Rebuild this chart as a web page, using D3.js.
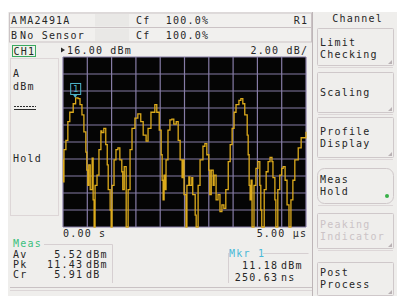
<!DOCTYPE html>
<html lang="en">
<head>
    <title>Peak Power Profile</title>
    <script src="https://d3js.org/d3.v7.min.js"></script>
    <style>
        body { margin: 0; background: #fff; }
        svg text { font-family: "DejaVu Sans Mono", monospace; font-size: 10px; letter-spacing: 1.2px; fill: #262626; }
    </style>
</head>
<body>
    <svg id="screen"></svg>

    <script>
        // trace: time in microseconds, power in dBm
        var traceTime = [0.00, 0.01, 0.02, 0.06, 0.10, 0.14, 0.21, 0.26, 0.31, 0.35, 0.39, 0.43, 0.47, 0.49, 0.51, 0.53,
            0.56, 0.60, 0.62, 0.64, 0.66, 0.70, 0.74, 0.78, 0.80, 0.84, 0.88, 0.91, 0.93, 0.97, 0.99, 1.01, 1.05,
            1.09, 1.13, 1.17, 1.21, 1.23, 1.26, 1.30, 1.34, 1.38, 1.42, 1.48, 1.54, 1.60, 1.65, 1.71, 1.75, 1.81,
            1.89, 1.93, 1.98, 2.02, 2.04, 2.06, 2.08, 2.10, 2.12, 2.16, 2.20, 2.24, 2.28, 2.33, 2.37, 2.41, 2.45,
            2.47, 2.49, 2.53, 2.55, 2.59, 2.61, 2.65, 2.67, 2.72, 2.74, 2.78, 2.82, 2.88, 2.92, 2.96, 3.00, 3.02,
            3.05, 3.09, 3.11, 3.15, 3.19, 3.23, 3.27, 3.31, 3.35, 3.40, 3.44, 3.48, 3.52, 3.56, 3.62, 3.66, 3.70,
            3.74, 3.79, 3.81, 3.83, 3.85, 3.87, 3.89, 3.93, 3.97, 4.01, 4.05, 4.07, 4.09, 4.14, 4.18, 4.22, 4.26,
            4.30, 4.32, 4.36, 4.38, 4.42, 4.46, 4.50, 4.53, 4.57, 4.61, 4.65, 4.69, 4.73, 4.77, 4.84, 4.90, 5.00];
        var tracePower = [3.9, 1.3, 5.1, 6.2, 8.4, 9.5, 10.5, 11.18, 11.1, 10.4, 9.2, 7.2, 4.8, 2.7, 0.9, 3.3,
            0.4, 4.1, -0.8, -4.0, 0.9, 2.1, 5.1, 7.3, 7.1, 7.6, 5.7, 3.3, 0.4, -2.0, -4.0, 0.9, 3.9,
            5.1, 5.3, 3.9, 2.5, 0.4, 3.1, -4.0, 0.4, 5.1, 7.6, 8.8, 9.3, 8.4, 6.8, 6.1, 7.6, 9.5,
            10.4, 9.5, 7.4, 4.5, 1.5, -0.8, 2.1, 0.4, 3.9, 7.4, 8.6, 8.7, 8.1, 8.4, 6.2, 3.9, 1.8,
            3.9, -0.2, -4.0, 0.9, 1.9, 0.9, 1.8, -0.2, -2.6, -4.0, 0.9, 3.9, 5.5, 5.8, 4.5, 2.7, -0.2,
            2.7, 0.9, 2.1, -0.8, -0.2, -2.2, -1.4, -1.8, 0.4, 3.7, 5.7, 7.6, 9.5, 10.4, 10.9, 11.1, 10.5,
            9.2, 6.8, 4.5, 0.9, -0.8, 1.5, -4.0, 0.9, 2.9, 3.7, 0.9, -2.0, -4.0, 0.4, 2.5, 3.7, 4.2,
            3.7, 1.8, -0.8, -4.0, 0.4, 2.1, 2.9, 3.1, 1.5, -1.4, -4.0, -0.8, 1.5, 3.9, 5.3, 6.5, 7.2];

        var headerRows = [["A", "MA2491A", "Cf", "100.0%", "R1"], ["B", "No Sensor", "Cf", "100.0%", ""]];
        var softKeys = [["Limit", "Checking"], ["Scaling"], ["Profile", "Display"], ["Meas", "Hold"],
            ["Peaking", "Indicator"], ["Post", "Process"]];
        var measLabels = ["Av", "Pk", "Cr"];
        var measValues = ["5.52", "11.43", "5.91"];
        var measUnits = ["dBm", "dBm", "dB"];
        var markerTime = 0.25063;   // us
        var markerPower = 11.18;    // dBm

        var width = 397, height = 296;
        var plot = { left: 63, top: 57, right: 306, bottom: 227 };

        var svg = d3.select("#screen").attr("width", width).attr("height", height);

        // screen background
        svg.append("rect").attr("x", 8).attr("y", 12).attr("width", width - 8).attr("height", height - 12)
            .attr("fill", "#efeeec");

        var line = "#cbc3c5";

        function label(xp, yp, s, anchor) {
            var t = svg.append("text").attr("x", xp).attr("y", yp).attr("dy", "0.35em").text(s);
            if (anchor === "end") t.attr("text-anchor", "end").attr("dx", 1.2);
            if (anchor === "middle") t.attr("text-anchor", "middle").attr("dx", 0.6);
            return t;
        }

        // header rows
        headerRows.forEach(function (r, i) {
            var y = 13 + i * 14.5;
            svg.append("rect").attr("x", 9.5).attr("y", y).attr("width", 302).attr("height", 14.5)
                .attr("fill", "#f1f0ee").attr("stroke", line);
            svg.append("rect").attr("x", 95).attr("y", y + 1).attr("width", 34).attr("height", 12.5)
                .attr("fill", "#e9e8e6");
            var ty = y + 7.5;
            label(11, ty, r[0]);
            label(20, ty, r[1]);
            label(136, ty, r[2]);
            label(208, ty, r[3], "end");
            label(307, ty, r[4], "end");
        });

        // channel line
        svg.append("rect").attr("x", 12.5).attr("y", 45.5).attr("width", 23).attr("height", 11)
            .attr("fill", "#eef3ea").attr("stroke", "#3aa860");
        label(13.5, 51, "CH1");
        svg.append("path").attr("d", "M61,47.5 L65,50 L61,52.5 Z").attr("fill", "#2b2b2b");
        label(67, 50, "16.00 dBm");
        label(307, 50, "2.00 dB/", "end");

        // left info panel
        svg.append("rect").attr("x", 10.5).attr("y", 58.5).attr("width", 48).attr("height", 157)
            .attr("fill", "none").attr("stroke", "#ddd6d7");
        label(13, 73, "A");
        label(13, 86, "dBm");
        [106.5, 109.5].forEach(function (y) {
            svg.append("line").attr("x1", 14).attr("x2", 36).attr("y1", y).attr("y2", y)
                .attr("stroke", "#2b2b2b").attr("stroke-dasharray", y < 108 ? "2,1" : null);
        });
        label(13, 158, "Hold");

        // plot
        var x = d3.scaleLinear().domain([0, 5]).range([plot.left, plot.right]);
        var y = d3.scaleLinear().domain([-4, 16]).range([plot.bottom, plot.top]);

        svg.append("rect").attr("x", plot.left).attr("y", plot.top)
            .attr("width", plot.right - plot.left).attr("height", plot.bottom - plot.top).attr("fill", "#050505");

        var grid = svg.append("g").attr("stroke", "#867ca6").attr("stroke-width", 1.2);
        grid.selectAll("line.v").data(d3.range(0, 5.01, 0.5)).enter().append("line")
            .attr("x1", function (d) { return x(d); }).attr("x2", function (d) { return x(d); })
            .attr("y1", plot.top).attr("y2", plot.bottom);
        grid.selectAll("line.h").data(d3.range(-4, 16.01, 2)).enter().append("line")
            .attr("y1", function (d) { return y(d); }).attr("y2", function (d) { return y(d); })
            .attr("x1", plot.left).attr("x2", plot.right);

        var traceData = traceTime.map(function (t, i) { return [t, tracePower[i]]; });
        var traceLine = d3.line()
            .x(function (d) { return x(d[0]); })
            .y(function (d) { return y(Math.max(-4, d[1])); })
            .curve(d3.curveStepAfter);

        svg.append("path").datum(traceData).attr("d", traceLine)
            .attr("fill", "none").attr("stroke", "#dcaa1c").attr("stroke-width", 1.3);

        // marker 1
        var mx = x(markerTime), my = y(markerPower);
        svg.append("rect").attr("x", mx - 4.5).attr("y", my - 14.5).attr("width", 10).attr("height", 11)
            .attr("fill", "none").attr("stroke", "#4fb6cc");
        svg.append("text").attr("x", mx + 0.5).attr("y", my - 9).attr("dy", "0.35em")
            .attr("text-anchor", "middle").style("fill", "#4fb6cc").style("font-size", "9px")
            .style("letter-spacing", "0px").text("1");
        svg.append("path").attr("d", "M" + (mx - 2) + "," + (my - 3) + "L" + (mx + 2) + "," + (my - 3) + "L" + mx + "," + my + "Z")
            .attr("fill", "#4fb6cc");

        // time axis labels
        label(plot.left, 233, "0.00 s");
        label(plot.right, 233, "5.00 µs", "end");

        // measurement box
        svg.append("path").attr("d", "M44,244.5 H112.5 V283").attr("fill", "none").attr("stroke", "#d6cfd1");
        label(13, 243, "Meas").style("fill", "#3cc07c");
        measLabels.forEach(function (l, i) {
            var ty = 254.5 + i * 10;
            label(13, ty, l);
            label(82, ty, measValues[i], "end");
            label(86, ty, measUnits[i]);
        });

        // marker readout box
        svg.append("path").attr("d", "M263,253.5 H308.5 M228.5,253 V283").attr("fill", "none").attr("stroke", "#d6cfd1");
        label(229, 253, "Mkr 1").style("fill", "#48b8d8");
        label(277, 265, markerPower.toFixed(2), "end");
        label(281, 265, "dBm");
        label(277, 277, (markerTime * 1000).toFixed(2), "end");
        label(281, 277, "ns");

        // bottom rule lines
        svg.append("line").attr("x1", 10).attr("x2", 312).attr("y1", 287.5).attr("y2", 287.5).attr("stroke", "#c9c2c4");
        svg.append("line").attr("x1", 10).attr("x2", 312).attr("y1", 290.5).attr("y2", 290.5).attr("stroke", "#dcd6d7");

        // soft key panel
        svg.append("line").attr("x1", 312.5).attr("x2", 312.5).attr("y1", 12).attr("y2", height).attr("stroke", "#bdb5b7");
        label(357, 18, "Channel", "middle");

        var keyTops = [28, 72, 117, 168, 213, 262];
        var keyBottoms = [65, 112, 157, 203, 248, 295];
        softKeys.forEach(function (k, i) {
            var top = keyTops[i], bottom = keyBottoms[i];
            var rounded = i === 3;
            svg.append("rect").attr("x", 317.5).attr("y", top + 0.5).attr("width", 76).attr("height", bottom - top)
                .attr("rx", rounded ? 7 : 1).attr("fill", "#efeeec").attr("stroke", "#cfc8ca");
            svg.append("line").attr("x1", 318).attr("x2", 393).attr("y1", bottom + 2.5).attr("y2", bottom + 2.5)
                .attr("stroke", "#ddd7d8");
            k.forEach(function (t, j) {
                var n = k.length;
                var ty = (top + bottom) / 2 - (n - 1) * 6 + j * 12;
                if (i === 0) ty += 2;
                label(320, ty, t).style("fill", i === 4 ? "#cbc3c6" : "#262626");
            });
            if (rounded) {
                svg.append("circle").attr("cx", 387).attr("cy", 196).attr("r", 2).attr("fill", "#38b048");
            } else {
                svg.append("path").attr("d", "M" + 392 + "," + (bottom - 5) + "L" + 392 + "," + (bottom - 1) + "L" + 388 + "," + (bottom - 1) + "Z")
                    .attr("fill", "#b9b1b4");
            }
        });
    </script>
</body>
</html>
